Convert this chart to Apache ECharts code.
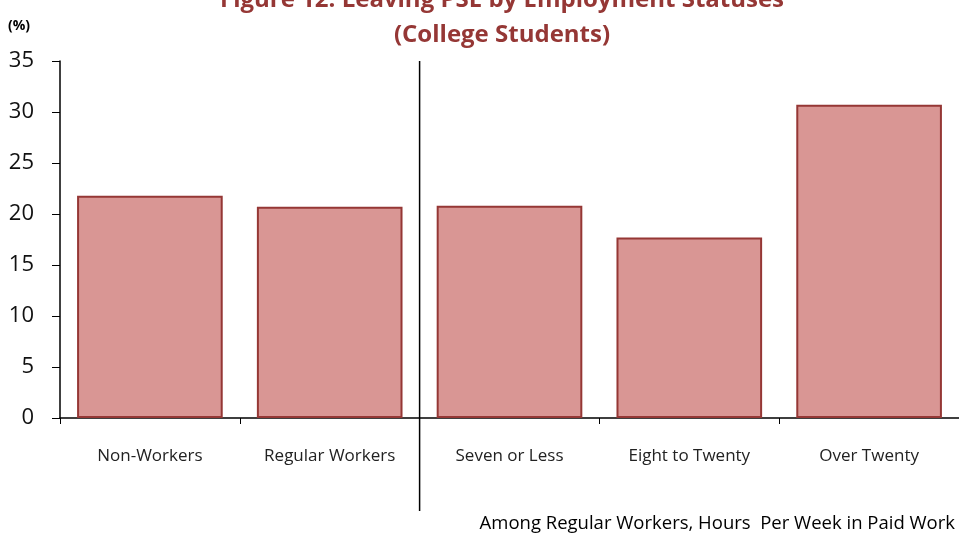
<!DOCTYPE html>
<html>
<head>
<meta charset="utf-8">
<script src="https://cdn.jsdelivr.net/npm/echarts@6/dist/echarts.min.js"></script>
<style>
  html, body { margin: 0; padding: 0; background: #fff; }
  #chart { width: 959px; height: 538px; }
</style>
</head>
<body>
<div id="chart"></div>
<script>
const categories = ['Non-Workers', 'Regular Workers', 'Seven or Less', 'Eight to Twenty', 'Over Twenty']
const leavingPct = [21.8, 20.7, 20.8, 17.7, 30.7]
const yTicks = { min: 0, max: 35, interval: 5 }

const font = '"Open Sans", "Liberation Sans", sans-serif'
const chart = echarts.init(document.getElementById('chart'))

const option = {
  animation: false,
  title: {
    text: 'Figure 12: Leaving PSE by Employment Statuses\n(College Students)',
    left: 497,
    textAlign: 'center',
    top: -22,
    textStyle: {
      color: '#953735',
      fontFamily: font,
      fontWeight: 'bold',
      fontSize: 24,
      lineHeight: 35
    }
  },
  grid: { left: 60, right: -3, top: 61, bottom: 120, containLabel: false },
  xAxis: {
    type: 'category',
    data: categories,
    axisLine: { lineStyle: { color: '#000', width: 1.5 } },
    axisTick: { show: true, interval: 0, length: 6, inside: false, lineStyle: { color: '#000' } },
    axisLabel: { interval: 0, color: '#222', fontFamily: font, fontSize: 17, margin: 30 }
  },
  yAxis: {
    type: 'value',
    min: yTicks.min,
    max: yTicks.max,
    interval: yTicks.interval,
    splitLine: { show: false },
    axisLine: { show: true, lineStyle: { color: '#000', width: 1.5 } },
    axisTick: { show: true, length: 8, lineStyle: { color: '#000' } },
    axisLabel: { color: '#111', fontFamily: font, fontSize: 22, margin: 26 }
  },
  series: [{
    type: 'bar',
    data: leavingPct,
    barCategoryGap: '19%',
    itemStyle: { color: '#d99694', borderColor: '#953735', borderWidth: 2 }
  }]
}
chart.setOption(option)

// divider between the worker groups, placed from the axis scale
const a = chart.convertToPixel({ xAxisIndex: 0 }, 1)
const b = chart.convertToPixel({ xAxisIndex: 0 }, 2)
const xDiv = (a + b) / 2
const yTop = chart.convertToPixel({ yAxisIndex: 0 }, yTicks.max)
chart.setOption({
  graphic: [
    {
      id: 'unit', type: 'text', left: 8, top: 19,
      style: { text: '(%)', fill: '#000', font: 'bold 14px ' + font }
    },
    {
      id: 'note', type: 'text', right: 4, top: 514,
      style: { text: 'Among Regular Workers, Hours  Per Week in Paid Work', fill: '#000', font: '18.5px ' + font }
    },
    {
      id: 'divider', type: 'line',
      shape: { x1: xDiv, y1: yTop, x2: xDiv, y2: 511 },
      style: { stroke: '#000', lineWidth: 1.5 }
    }
  ]
})
</script>
</body>
</html>
